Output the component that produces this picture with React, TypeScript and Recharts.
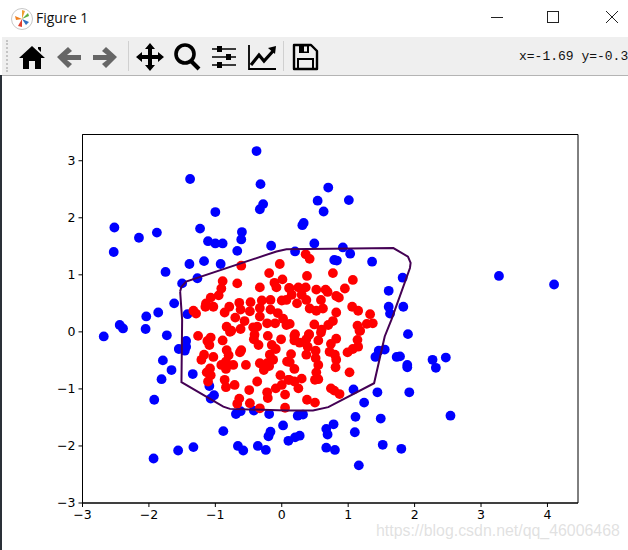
import { ScatterChart, Scatter, XAxis, YAxis, ReferenceArea } from "recharts";

type Pt = [number, number];

const xTicks = [-3, -2, -1, 0, 1, 2, 3, 4];
const yTicks = [-3, -2, -1, 0, 1, 2, 3];

const bluePoints: Pt[] = [
  [-0.38, 3.17], [-1.38, 2.68], [-0.32, 2.59], [-0.28, 2.24], [-0.33, 2.15], [0.7, 2.53], [0.54, 2.3], [0.63, 2.11],
  [-1.0, 2.1], [-2.52, 1.83], [-2.53, 1.4], [-2.15, 1.65], [-1.88, 1.74], [-1.23, 1.81], [-0.6, 1.75], [-0.61, 1.62],
  [-1.11, 1.59], [-1.0, 1.55], [-0.89, 1.55], [-0.67, 1.42], [-0.16, 1.51], [0.33, 1.91], [0.31, 1.87], [0.49, 1.55],
  [0.2, 1.41], [-1.39, 1.19], [-1.17, 1.24], [-0.92, 1.19], [-1.75, 1.05], [-1.5, 0.85], [-1.27, 0.94], [-1.62, 0.5],
  [-1.86, 0.34], [-2.04, 0.27], [-1.42, 0.31], [1.01, 2.31], [0.92, 1.48], [1.03, 1.37], [0.79, 1.26], [0.83, 1.25],
  [1.36, 1.23], [1.82, 0.95], [1.61, 0.72], [1.61, 0.44], [1.83, 0.44], [1.63, 0.32], [3.27, 0.98], [4.1, 0.83],
  [-2.44, 0.12], [-2.39, 0.06], [-2.68, -0.08], [-2.05, 0.05], [-1.73, -0.06], [-1.44, -0.16], [-1.44, -0.26],
  [-1.55, -0.3], [-1.46, -0.33], [-1.79, -0.5], [-1.66, -0.67], [-1.81, -0.83], [-1.34, -0.74], [-1.09, -0.95],
  [-1.02, -1.11], [-1.07, -1.17], [-1.92, -1.19], [-0.69, -1.44], [-0.62, -1.39], [-0.42, -1.38], [-0.19, -1.44],
  [0.24, -1.47], [0.32, -1.45], [-0.88, -1.74], [0.02, -1.64], [-0.17, -1.75], [-0.2, -1.83], [0.27, -1.82],
  [0.2, -1.85], [0.1, -1.91], [-0.66, -2.0], [-0.58, -2.08], [-0.36, -2.0], [-0.24, -2.07], [-1.33, -2.02],
  [-1.56, -2.08], [-1.93, -2.22], [0.67, -1.7], [0.69, -1.8], [0.67, -2.03], [1.9, -0.04], [1.55, -0.31],
  [1.46, -0.33], [1.41, -0.44], [1.78, -0.43], [1.73, -0.44], [1.89, -0.58], [1.89, -0.62], [2.27, -0.49],
  [2.32, -0.63], [2.47, -0.45], [1.08, -1.01], [1.44, -1.06], [1.92, -1.06], [1.24, -1.24], [1.11, -1.49],
  [1.49, -1.52], [2.54, -1.47], [0.78, -1.62], [1.1, -1.76], [1.52, -1.98], [1.8, -2.05], [0.8, -2.07], [1.16, -2.34],
];

const redPoints: Pt[] = [
  [-0.61, 1.16], [-0.19, 1.03], [-0.03, 1.19], [-0.89, 0.89], [-0.67, 0.85], [-0.33, 0.78], [-0.11, 0.86], [0.01, 0.92],
  [-0.08, 0.78], [-0.91, 0.76], [-0.95, 0.64], [-1.07, 0.6], [0.11, 0.77], [-1.33, 0.37], [-1.29, 0.32], [-1.14, 0.5],
  [-1.15, 0.44], [-1.03, 0.44], [-0.79, 0.44], [-0.86, 0.34], [-0.64, 0.51], [-0.47, 0.52], [-0.3, 0.55], [-0.17, 0.56],
  [0.0, 0.55], [-0.62, 0.39], [-0.7, 0.25], [-0.56, 0.19], [-0.48, 0.36], [-0.33, 0.42], [-0.33, 0.27], [-0.17, 0.39],
  [-0.06, 0.33], [-0.22, 0.15], [-0.1, 0.15], [0.02, 0.23], [0.07, 0.12], [-0.83, 0.09], [-0.76, 0.02], [-0.62, 0.05],
  [-0.43, 0.08], [-0.37, 0.09], [0.36, 1.36], [0.42, 1.28], [0.77, 1.03], [0.38, 0.98], [1.07, 0.91], [0.95, 0.76],
  [0.12, 0.76], [0.25, 0.78], [0.36, 0.78], [0.52, 0.74], [0.66, 0.74], [0.69, 0.7], [0.82, 0.63], [0.86, 0.6],
  [0.15, 0.65], [0.3, 0.65], [0.37, 0.56], [0.07, 0.56], [0.23, 0.5], [0.59, 0.56], [0.42, 0.41], [0.52, 0.37],
  [0.62, 0.41], [0.82, 0.34], [1.06, 0.44], [1.15, 0.37], [1.33, 0.31], [0.77, 0.19], [0.7, 0.12], [0.49, 0.13],
  [0.12, 0.14], [1.14, 0.11], [1.28, 0.14], [1.37, 0.15], [0.6, 0.04], [0.2, -0.04], [0.41, -0.04], [1.17, 0.02],
  [-1.26, -0.07], [-1.07, -0.1], [-1.12, -0.16], [-1.09, -0.23], [-0.89, -0.15], [-0.78, 0.0], [-0.41, -0.05],
  [-0.42, -0.13], [-0.35, -0.23], [-0.21, -0.07], [-0.01, -0.13], [-0.15, -0.23], [-0.09, -0.3], [-0.83, -0.32],
  [-0.8, -0.41], [-0.61, -0.32], [-0.63, -0.36], [-1.17, -0.4], [-1.21, -0.49], [-1.03, -0.44], [-0.91, -0.58],
  [-0.84, -0.52], [-0.84, -0.65], [-0.73, -0.58], [-0.54, -0.58], [-0.33, -0.55], [-0.27, -0.67], [-0.22, -0.55],
  [-0.18, -0.4], [-0.13, -0.49], [-0.19, -0.6], [-1.08, -0.64], [-1.13, -0.71], [-1.07, -0.76], [-1.11, -0.87],
  [0.08, -0.52], [-0.02, -0.76], [0.1, -0.84], [-0.86, -0.84], [-0.84, -0.97], [-0.71, -0.93], [-0.37, -0.87],
  [-0.49, -1.02], [0.0, -0.93], [-0.09, -0.99], [-0.22, -1.06], [-0.21, -1.16], [0.05, -1.1], [-0.64, -1.17],
  [-0.67, -1.26], [-0.48, -1.25], [-0.33, -1.34], [0.05, -1.33], [0.19, -0.07], [0.19, -0.15], [0.41, -0.05],
  [0.37, -0.13], [0.27, -0.19], [0.59, -0.01], [0.55, -0.15], [0.82, -0.12], [0.74, -0.21], [1.18, 0.02], [1.14, -0.14],
  [1.15, -0.26], [1.07, -0.3], [0.99, -0.36], [0.51, -0.33], [0.37, -0.4], [0.39, -0.26], [0.72, -0.35], [0.8, -0.4],
  [0.82, -0.49], [0.14, -0.39], [0.12, -0.53], [0.51, -0.46], [0.55, -0.58], [0.81, -0.62], [1.02, -0.71], [0.19, -0.65],
  [0.52, -0.71], [0.3, -0.82], [0.11, -0.84], [0.19, -0.87], [0.5, -0.84], [0.55, -0.83], [0.25, -0.99], [0.74, -0.99],
  [0.79, -1.03], [0.87, -1.09], [0.38, -1.19], [0.5, -1.24],
];

const boundary: Pt[] = [
  [-1.53, 0.71], [-1.51, 0.79], [-1.44, 0.88], [-0.08, 1.41], [0.07, 1.45], [1.68, 1.47], [1.9, 1.32], [1.94, 1.21],
  [1.93, 1.12], [1.65, 0.21], [1.55, -0.08], [1.39, -0.9], [0.7, -1.32], [0.47, -1.38], [0.07, -1.38], [-0.78, -1.35],
  [-0.88, -1.31], [-1.51, -0.88], [-1.5, 0.21], [-1.53, 0.71],
];

const toRows = (pts: Pt[]) => pts.map(([x, y]) => ({ x, y }));
const minus = (v: number) => String(v).replace("-", "\u2212");

const dot = (color: string) => (p: any) => <circle cx={p.cx} cy={p.cy} r={4.9} fill={color} />;

function Icon({ left, children }: { left: number; children: React.ReactNode }) {
  return (
    <svg width={30} height={30} viewBox="0 0 30 30" style={{ position: "absolute", left, top: 42 }}>
      {children}
    </svg>
  );
}

function WindowChrome() {
  return (
    <>
      <svg width={24} height={24} viewBox="0 0 24 24" style={{ position: "absolute", left: 10, top: 7 }}>
        <circle cx={12} cy={12} r={10.5} fill="#fff" stroke="#c8c8c8" />
        <path d="M12 12 L5 9 L6 13 Z" fill="#f08020" />
        <path d="M12 12 L12 3 L15 4 Z" fill="#f0a030" />
        <path d="M12 12 L18 6 L19 9 Z" fill="#60b040" />
        <path d="M12 12 L19 15 L16 18 Z" fill="#3070c0" />
        <path d="M12 12 L8 19 L12 20 Z" fill="#e04030" />
      </svg>
      <div style={{ position: "absolute", left: 36, top: 8, fontFamily: "'Open Sans'", fontSize: 14, lineHeight: "20px", color: "#111" }}>
        Figure 1
      </div>
      <svg width={140} height={24} style={{ position: "absolute", left: 488, top: 5 }}>
        <line x1={3} x2={15} y1={12.5} y2={12.5} stroke="#222" />
        <rect x={59.5} y={6.5} width={11} height={11} fill="none" stroke="#222" />
        <path d="M118 6 L130 18 M130 6 L118 18" stroke="#222" fill="none" />
      </svg>

      <div style={{ position: "absolute", left: 2, top: 37, width: 626, height: 38, background: "#efefef", borderBottom: "1px solid #b4b4b4" }} />
      <div style={{ position: "absolute", left: 6, top: 40, height: 32, borderLeft: "2px dotted #c4c4c4" }} />
      <div style={{ position: "absolute", left: 128, top: 41, width: 1, height: 30, background: "#d0d0d0" }} />
      <div style={{ position: "absolute", left: 283, top: 41, width: 1, height: 30, background: "#d0d0d0" }} />

      <Icon left={17}>
        <path d="M15 4 L28 16 L24 16 L24 27 L18 27 L18 19 L12 19 L12 27 L6 27 L6 16 L2 16 Z M21 5 L24 5 L24 10 L21 7 Z" fill="#000" />
      </Icon>
      <Icon left={54}>
        <path d="M3 15 L14 5 L18 9 L13 13 L27 13 L27 18 L13 18 L18 22 L14 26 Z" fill="#666" />
      </Icon>
      <Icon left={90}>
        <path d="M27 15 L16 5 L12 9 L17 13 L3 13 L3 18 L17 18 L12 22 L16 26 Z" fill="#666" />
      </Icon>
      <Icon left={135}>
        <path d="M15 1 L20 7 L17 7 L17 13 L23 13 L23 10 L29 15 L23 20 L23 17 L17 17 L17 23 L20 23 L15 29 L10 23 L13 23 L13 17 L7 17 L7 20 L1 15 L7 10 L7 13 L13 13 L13 7 L10 7 Z" fill="#000" />
      </Icon>
      <Icon left={172}>
        <circle cx={13} cy={12} r={9} fill="none" stroke="#000" strokeWidth={3.6} />
        <path d="M19 19 L27 27" stroke="#000" strokeWidth={4} />
      </Icon>
      <Icon left={209}>
        <path d="M3 7 H27 M3 15 H27 M3 23 H27" stroke="#000" strokeWidth={1.6} />
        <rect x={8} y={4} width={5} height={6} fill="#000" />
        <rect x={17} y={12} width={5} height={6} fill="#000" />
        <rect x={8} y={20} width={5} height={6} fill="#000" />
      </Icon>
      <Icon left={247}>
        <path d="M2 3 V27 H29" fill="none" stroke="#000" strokeWidth={1.8} />
        <path d="M4 23 L12 13 L17 19 L27 8" fill="none" stroke="#000" strokeWidth={3.2} />
        <path d="M21 6 L29 4 L28 12 Z" fill="#000" />
      </Icon>
      <Icon left={290}>
        <path d="M4 3 H21 L27 9 V27 H4 Z" fill="none" stroke="#000" strokeWidth={2.4} strokeLinejoin="round" />
        <rect x={9} y={3} width={10} height={8} fill="#000" />
        <rect x={14} y={4.5} width={3} height={5} fill="#efefef" />
        <rect x={8} y={17} width={15} height={10} fill="none" stroke="#000" strokeWidth={2} />
      </Icon>

      <div style={{ position: "absolute", left: 519, top: 49, width: 109, overflow: "hidden", whiteSpace: "nowrap", fontFamily: "'Liberation Mono'", fontSize: 13, lineHeight: "16px", color: "#111" }}>
        x=-1.69 y=-0.3
      </div>
      <div style={{ position: "absolute", left: 0, top: 75, width: 2, height: 475, background: "#2a3038" }} />
    </>
  );
}

export default function App() {
  return (
    <div style={{ position: "relative", width: 628, height: 550, overflow: "hidden", background: "#fff" }}>
      <style>{"body{margin:0}"}</style>
      <WindowChrome />
      <div style={{ position: "absolute", left: 0, top: 0 }}>
        <ScatterChart width={628} height={550} margin={{ top: 134.5, right: 50, bottom: 0, left: 0 }}>
          <XAxis
            type="number"
            dataKey="x"
            domain={[-3, 4.46]}
            ticks={xTicks}
            interval={0}
            tickFormatter={minus}
            height={47}
            tickSize={4}
            tickMargin={3}
            stroke="#000"
            tick={{ fill: "#000", fontSize: 12.5, fontFamily: "'DejaVu Sans'" }}
          />
          <YAxis
            type="number"
            dataKey="y"
            domain={[-3, 3.46]}
            ticks={yTicks}
            interval={0}
            tickFormatter={minus}
            width={82.5}
            tickSize={4}
            tickMargin={3}
            stroke="#000"
            tick={{ fill: "#000", fontSize: 12.5, fontFamily: "'DejaVu Sans'" }}
          />
          <ReferenceArea x1={-3} x2={4.46} y1={-3} y2={3.46} fill="none" stroke="#000" strokeWidth={1} />
          <Scatter data={toRows(bluePoints)} shape={dot("#0000ff")} isAnimationActive={false} />
          <Scatter data={toRows(redPoints)} shape={dot("#ff0000")} isAnimationActive={false} />
          <Scatter
            data={toRows(boundary)}
            line={{ stroke: "#440154", strokeWidth: 2 }}
            shape={() => <g />}
            isAnimationActive={false}
          />
        </ScatterChart>
      </div>
      <div style={{ position: "absolute", left: 376, top: 521, fontFamily: "'Liberation Sans'", fontSize: 15.9, lineHeight: "20px", color: "rgba(205,205,205,0.6)" }}>
        https://blog.csdn.net/qq_46006468
      </div>
    </div>
  );
}
